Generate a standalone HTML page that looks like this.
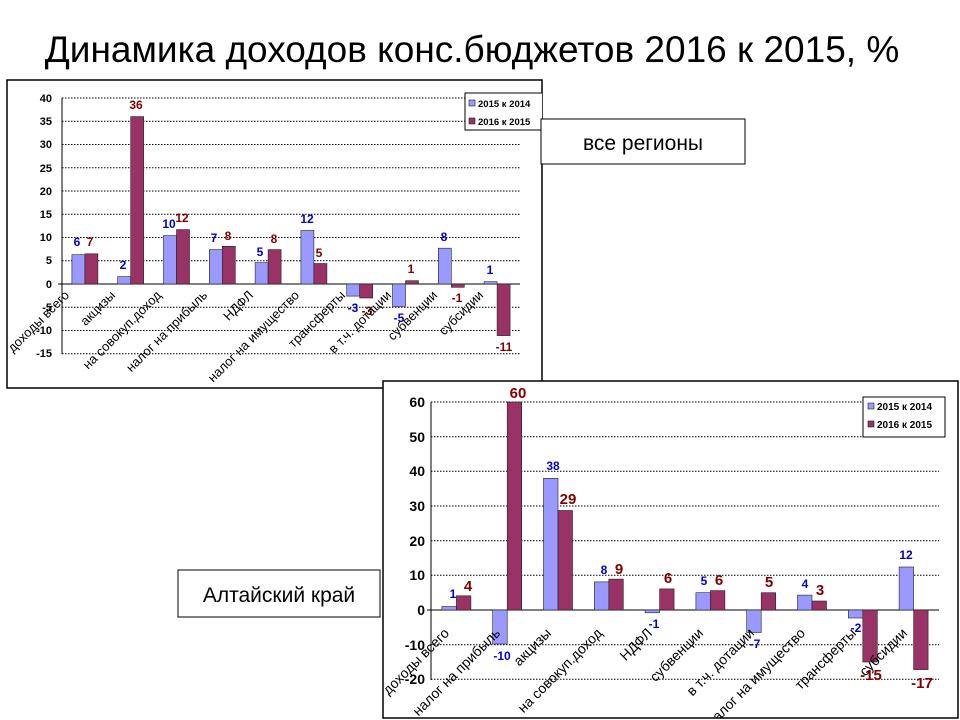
<!DOCTYPE html>
<html><head><meta charset="utf-8"><style>
body{margin:0;width:960px;height:720px;background:#fff;overflow:hidden}
svg{position:absolute;left:0;top:0}
text{font-family:"Liberation Sans",sans-serif}
.b{fill:#9999ff;stroke:#222;stroke-width:.6}
.r{fill:#993366;stroke:#222;stroke-width:.6}
.lb{fill:#0000cc;font-weight:bold;font-size:12px;text-anchor:middle}
.lr{fill:#800000;font-weight:bold;font-size:12px;text-anchor:middle}
.t1{font-size:11px;font-weight:bold;text-anchor:end}
.c1{font-size:13px;text-anchor:end}
.lb2{fill:#0000cc;font-weight:bold;font-size:12px;text-anchor:middle}
.lr2{fill:#800000;font-weight:bold;font-size:15px;text-anchor:middle}
.t2{font-size:14px;font-weight:bold;text-anchor:end}
.c2{font-size:14px;text-anchor:end}
.g{stroke:#000;stroke-width:1;stroke-dasharray:1.5 1.5}
</style></head><body>
<svg width="960" height="720" viewBox="0 0 960 720">
<text x="472" y="62" font-size="37" text-anchor="middle">Динамика доходов конс.бюджетов 2016 к 2015, %</text>

<defs><clipPath id="k1"><rect x="7" y="80" width="535" height="308"/></clipPath>
<clipPath id="k2"><rect x="383" y="381" width="575" height="337"/></clipPath></defs>
<rect x="7" y="80" width="535" height="308" fill="#fff" stroke="#000" stroke-width="1.5"/>
<g clip-path="url(#k1)">
<g class="g">
<line x1="62" x2="520" y1="98" y2="98"/><line x1="62" x2="520" y1="121.25" y2="121.25"/><line x1="62" x2="520" y1="144.5" y2="144.5"/><line x1="62" x2="520" y1="167.75" y2="167.75"/><line x1="62" x2="520" y1="191" y2="191"/><line x1="62" x2="520" y1="214.25" y2="214.25"/><line x1="62" x2="520" y1="237.5" y2="237.5"/><line x1="62" x2="520" y1="260.75" y2="260.75"/><line x1="62" x2="520" y1="307.25" y2="307.25"/><line x1="62" x2="520" y1="330.5" y2="330.5"/><line x1="62" x2="520" y1="353.75" y2="353.75"/>
</g>
<line x1="62" y1="98" x2="62" y2="354" stroke="#000"/>
<line x1="58" y1="284" x2="520" y2="284" stroke="#000"/>
<g>
<text class="t1" x="52" y="102">40</text><text class="t1" x="52" y="125">35</text><text class="t1" x="52" y="148">30</text><text class="t1" x="52" y="172">25</text><text class="t1" x="52" y="195">20</text><text class="t1" x="52" y="218">15</text><text class="t1" x="52" y="241">10</text><text class="t1" x="52" y="264">5</text><text class="t1" x="52" y="288">0</text><text class="t1" x="52" y="311">-5</text><text class="t1" x="52" y="334">-10</text><text class="t1" x="52" y="357">-15</text>
</g>
<rect class="b" x="71.9" y="254.7" width="13" height="29.3"/><rect class="r" x="84.9" y="253.8" width="13" height="30.2"/>
<rect class="b" x="117.7" y="276.6" width="13" height="7.4"/><rect class="r" x="130.7" y="116.6" width="13" height="167.4"/>
<rect class="b" x="163.5" y="235.6" width="13" height="48.4"/><rect class="r" x="176.5" y="229.6" width="13" height="54.4"/>
<rect class="b" x="209.3" y="249.6" width="13" height="34.4"/><rect class="r" x="222.3" y="246.3" width="13" height="37.7"/>
<rect class="b" x="255.1" y="262.6" width="13" height="21.4"/><rect class="r" x="268.1" y="249.6" width="13" height="34.4"/>
<rect class="b" x="300.9" y="230.5" width="13" height="53.5"/><rect class="r" x="313.9" y="263.5" width="13" height="20.5"/>
<rect class="b" x="346.7" y="284" width="13" height="12.1"/><rect class="r" x="359.7" y="284" width="13" height="14"/>
<rect class="b" x="392.5" y="284" width="13" height="22.3"/><rect class="r" x="405.5" y="280.7" width="13" height="3.3"/>
<rect class="b" x="438.3" y="248.2" width="13" height="35.8"/><rect class="r" x="451.3" y="284" width="13" height="3.3"/>
<rect class="b" x="484.1" y="281.7" width="13" height="2.3"/><rect class="r" x="497.1" y="284" width="13" height="51.6"/>
<text class="lb" x="77" y="246">6</text><text class="lr" x="90" y="246">7</text>
<text class="lb" x="123" y="269">2</text><text class="lr" x="136" y="109">36</text>
<text class="lb" x="169" y="228">10</text><text class="lr" x="182" y="222">12</text>
<text class="lb" x="214" y="242">7</text><text class="lr" x="228" y="240">8</text>
<text class="lb" x="260" y="256">5</text><text class="lr" x="274" y="243">8</text>
<text class="lb" x="307" y="223">12</text><text class="lr" x="319" y="257">5</text>
<text class="lb" x="353" y="312">-3</text><text class="lr" x="367" y="315">-3</text>
<text class="lb" x="399" y="322">-5</text><text class="lr" x="411" y="273">1</text>
<text class="lb" x="444" y="241">8</text><text class="lr" x="457" y="302">-1</text>
<text class="lb" x="490" y="274">1</text><text class="lr" x="504" y="351">-11</text>
<g class="c1">
<text transform="translate(70,296) rotate(-45)">доходы всего</text>
<text transform="translate(116,296) rotate(-45)">акцизы</text>
<text transform="translate(162,296) rotate(-45)">на совокуп.доход</text>
<text transform="translate(208,296) rotate(-45)">налог на прибыль</text>
<text transform="translate(254,296) rotate(-45)">НДФЛ</text>
<text transform="translate(300,296) rotate(-45)">налог на имущество</text>
<text transform="translate(346,296) rotate(-45)">трансферты</text>
<text transform="translate(392,296) rotate(-45)">в т.ч. дотации</text>
<text transform="translate(438,296) rotate(-45)">субвенции</text>
<text transform="translate(484,296) rotate(-45)">субсидии</text>
</g>
<rect x="465" y="93" width="80" height="37" fill="#fff" stroke="#000"/>
<rect x="469" y="100" width="6" height="6" class="b"/><text x="478" y="107" font-size="9.5" font-weight="bold">2015 к 2014</text>
<rect x="469" y="118" width="6" height="6" class="r"/><text x="478" y="125" font-size="9.5" font-weight="bold">2016 к 2015</text>
</g>
<rect x="541" y="119" width="204" height="45" fill="#fff" stroke="#000"/>
<text x="643" y="150" font-size="21" text-anchor="middle">все регионы</text>

<rect x="383" y="381" width="575" height="337" fill="#fff" stroke="#000" stroke-width="1.5"/>
<g clip-path="url(#k2)">
<g class="g">
<line x1="431" x2="939" y1="402" y2="402"/><line x1="431" x2="939" y1="436.7" y2="436.7"/><line x1="431" x2="939" y1="471.3" y2="471.3"/><line x1="431" x2="939" y1="506" y2="506"/><line x1="431" x2="939" y1="540.7" y2="540.7"/><line x1="431" x2="939" y1="575.3" y2="575.3"/><line x1="431" x2="939" y1="644.7" y2="644.7"/><line x1="431" x2="939" y1="679.3" y2="679.3"/>
</g>
<line x1="431" y1="402" x2="431" y2="680" stroke="#000"/>
<line x1="427" y1="610" x2="939" y2="610" stroke="#000"/>
<text class="t2" x="425" y="407">60</text><text class="t2" x="425" y="442">50</text><text class="t2" x="425" y="476">40</text><text class="t2" x="425" y="511">30</text><text class="t2" x="425" y="546">20</text><text class="t2" x="425" y="580">10</text><text class="t2" x="425" y="615">0</text><text class="t2" x="425" y="650">-10</text><text class="t2" x="425" y="684">-20</text>
<rect class="b" x="441.9" y="606.5" width="14.5" height="3.5"/><rect class="r" x="456.4" y="595.8" width="14.5" height="14.2"/>
<rect class="b" x="492.7" y="610" width="14.5" height="34"/><rect class="r" x="507.2" y="402" width="14.5" height="208"/>
<rect class="b" x="543.5" y="478.3" width="14.5" height="131.7"/><rect class="r" x="558" y="510.5" width="14.5" height="99.5"/>
<rect class="b" x="594.3" y="581.9" width="14.5" height="28.1"/><rect class="r" x="608.8" y="579.1" width="14.5" height="30.9"/>
<rect class="b" x="645.1" y="610" width="14.5" height="2.8"/><rect class="r" x="659.6" y="588.9" width="14.5" height="21.1"/>
<rect class="b" x="695.9" y="592.7" width="14.5" height="17.3"/><rect class="r" x="710.4" y="590.6" width="14.5" height="19.4"/>
<rect class="b" x="746.7" y="610" width="14.5" height="22.5"/><rect class="r" x="761.2" y="592.7" width="14.5" height="17.3"/>
<rect class="b" x="797.5" y="595.1" width="14.5" height="14.9"/><rect class="r" x="812" y="601" width="14.5" height="9"/>
<rect class="b" x="848.3" y="610" width="14.5" height="8"/><rect class="r" x="862.8" y="610" width="14.5" height="52"/>
<rect class="b" x="899.1" y="567" width="14.5" height="43"/><rect class="r" x="913.6" y="610" width="14.5" height="59.6"/>
<text class="lb2" x="453" y="598">1</text><text class="lr2" x="468" y="591">4</text>
<text class="lb2" x="502" y="660">-10</text><text class="lr2" x="518" y="398">60</text>
<text class="lb2" x="553" y="470">38</text><text class="lr2" x="568" y="504">29</text>
<text class="lb2" x="604" y="574">8</text><text class="lr2" x="619" y="574">9</text>
<text class="lb2" x="654" y="628">-1</text><text class="lr2" x="668" y="583">6</text>
<text class="lb2" x="704" y="585">5</text><text class="lr2" x="719" y="585">6</text>
<text class="lb2" x="755" y="648">-7</text><text class="lr2" x="769" y="587">5</text>
<text class="lb2" x="805" y="588">4</text><text class="lr2" x="820" y="595">3</text>
<text class="lb2" x="856" y="632">-2</text><text class="lr2" x="871" y="680">-15</text>
<text class="lb2" x="906" y="559">12</text><text class="lr2" x="922" y="688">-17</text>
<g class="c2">
<text transform="translate(450,634) rotate(-45)">доходы всего</text>
<text transform="translate(501,634) rotate(-45)">налог на прибыль</text>
<text transform="translate(552,634) rotate(-45)">акцизы</text>
<text transform="translate(603,634) rotate(-45)">на совокуп.доход</text>
<text transform="translate(653,634) rotate(-45)">НДФЛ</text>
<text transform="translate(704,634) rotate(-45)">субвенции</text>
<text transform="translate(755,634) rotate(-45)">в т.ч. дотации</text>
<text transform="translate(806,634) rotate(-45)">налог на имущество</text>
<text transform="translate(857,634) rotate(-45)">трансферты</text>
<text transform="translate(908,634) rotate(-45)">субсидии</text>
</g>
<rect x="863" y="397" width="82" height="40" fill="#fff" stroke="#000"/>
<rect x="868" y="403" width="6" height="6" class="b"/><text x="877" y="410" font-size="10" font-weight="bold">2015 к 2014</text>
<rect x="868" y="421" width="6" height="6" class="r"/><text x="877" y="428" font-size="10" font-weight="bold">2016 к 2015</text>
</g>
<rect x="178" y="570" width="202" height="47" fill="#fff" stroke="#000"/>
<text x="279" y="602" font-size="21" text-anchor="middle">Алтайский край</text>
</svg>
</body></html>
